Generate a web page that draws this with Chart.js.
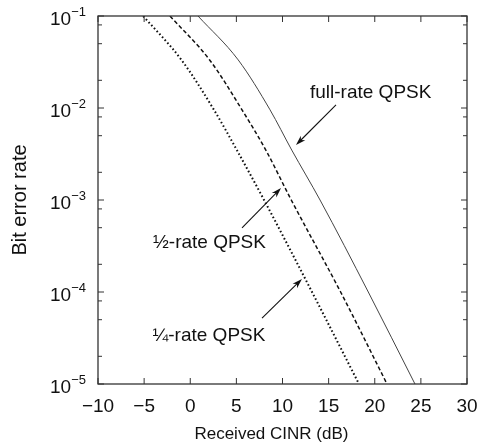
<!DOCTYPE html>
<html>
<head>
<meta charset="utf-8">
<script src="https://cdn.jsdelivr.net/npm/chart.js@4.4.0/dist/chart.umd.min.js"></script>
<style>
  html, body { margin: 0; padding: 0; background: #fff; }
  canvas { display: block; }
</style>
</head>
<body>
<canvas id="ber" width="489" height="446"></canvas>
<script>
// BER levels, and the CINR (dB) at which each QPSK curve reaches them
var berLevels = [1e-1, 3.33e-2, 9.55e-3, 3.49e-3, 1e-3, 1e-4, 1e-5]
var fullRateDb = [0.84, 5.2, 8.65, 11.0, 14.07, 19.3, 24.36]
var halfRateDb = [-2.2, 2.1, 5.61, 8.19, 10.95, 16.3, 21.33]
var quarterRateDb = [-5.1, -0.95, 2.57, 5.05, 8.0, 13.2, 18.29]

var xTicks = [-10, -5, 0, 5, 10, 15, 20, 25, 30]
var yDecades = [-5, -4, -3, -2, -1]
var yMinor = [2, 5, 8]

// curve labels with their arrows, in (dB, BER)
var curveLabels = ['full-rate QPSK', '\u00bd-rate QPSK', '\u00bc-rate QPSK']
var labelAt = [[12.98, 1.285e-2], [-4.04, 3.006e-4], [-4.1, 2.93e-5]]
var arrowFrom = [[15.8, 1.079e-2], [5.61, 4.97e-4], [7.78, 5.21e-5]]
var arrowTo = [[11.46, 3.963e-3], [9.84, 1.349e-3], [12.11, 1.384e-4]]

var xTitle = 'Received CINR (dB)'

var FAMILY = '"Liberation Sans", Arial, Helvetica, sans-serif'
Chart.defaults.font.family = FAMILY
Chart.defaults.color = '#111'

function points(db) {
    return berLevels.map(function (b, i) { return { x: db[i], y: b } })
}

var frame = {
    id: 'frame',
    afterDraw: function (chart) {
        var ctx = chart.ctx, a = chart.chartArea
        var xs = chart.scales.x, ys = chart.scales.y
        ctx.save()

        // box round the plot
        ctx.strokeStyle = '#333'
        ctx.lineWidth = 1.3
        ctx.strokeRect(a.left, a.top, a.right - a.left, a.bottom - a.top)

        // inward tick marks on all four sides
        ctx.lineWidth = 1
        ctx.beginPath()
        xs.ticks.forEach(function (t) {
            var px = xs.getPixelForValue(t.value)
            ctx.moveTo(px, a.bottom); ctx.lineTo(px, a.bottom - 6)
            ctx.moveTo(px, a.top); ctx.lineTo(px, a.top + 6)
        })
        ys.ticks.forEach(function (t) {
            var py = ys.getPixelForValue(t.value)
            var e = Math.log10(t.value)
            var len = Math.abs(e - Math.round(e)) < 1e-9 ? 6 : 4
            ctx.moveTo(a.left, py); ctx.lineTo(a.left + len, py)
            ctx.moveTo(a.right, py); ctx.lineTo(a.right - len, py)
        })
        ctx.stroke()

        // 10^n labels on the y axis
        ctx.fillStyle = '#111'
        ctx.textAlign = 'right'
        ctx.textBaseline = 'alphabetic'
        yDecades.forEach(function (e) {
            var py = ys.getPixelForValue(Math.pow(10, e))
            var sup = '\u2212' + Math.abs(e)
            ctx.font = '13px ' + FAMILY
            var sw = ctx.measureText(sup).width
            ctx.fillText(sup, a.left - 12, py)
            ctx.font = '19px ' + FAMILY
            ctx.fillText('10', a.left - 12 - sw, py + 9)
        })

        // x axis title, sitting a little left of the plot centre
        ctx.font = '17px ' + FAMILY
        ctx.textAlign = 'center'
        ctx.fillText(xTitle, a.left + (a.right - a.left) * 0.47, chart.height - 7)

        // arrows pointing at the curves
        ctx.strokeStyle = '#111'
        ctx.fillStyle = '#111'
        ctx.lineWidth = 1.1
        for (var i = 0; i < curveLabels.length; i++) {
            var x0 = xs.getPixelForValue(arrowFrom[i][0]), y0 = ys.getPixelForValue(arrowFrom[i][1])
            var x1 = xs.getPixelForValue(arrowTo[i][0]), y1 = ys.getPixelForValue(arrowTo[i][1])
            var ang = Math.atan2(y1 - y0, x1 - x0)
            ctx.beginPath()
            ctx.moveTo(x0, y0)
            ctx.lineTo(x1 - 6 * Math.cos(ang), y1 - 6 * Math.sin(ang))
            ctx.stroke()
            ctx.beginPath()
            ctx.moveTo(x1, y1)
            ctx.lineTo(x1 - 10 * Math.cos(ang) + 3.2 * Math.sin(ang), y1 - 10 * Math.sin(ang) - 3.2 * Math.cos(ang))
            ctx.lineTo(x1 - 7 * Math.cos(ang), y1 - 7 * Math.sin(ang))
            ctx.lineTo(x1 - 10 * Math.cos(ang) - 3.2 * Math.sin(ang), y1 - 10 * Math.sin(ang) + 3.2 * Math.cos(ang))
            ctx.closePath()
            ctx.fill()

            ctx.font = '19px ' + FAMILY
            ctx.textAlign = 'left'
            ctx.fillText(curveLabels[i], xs.getPixelForValue(labelAt[i][0]), ys.getPixelForValue(labelAt[i][1]))
        }
        ctx.restore()
    }
}

new Chart(document.getElementById('ber'), {
    type: 'line',
    data: {
        datasets: [
            { label: 'full-rate QPSK', data: points(fullRateDb), borderColor: '#444', borderWidth: 1 },
            { label: '1/2-rate QPSK', data: points(halfRateDb), borderColor: '#111', borderWidth: 1.5, borderDash: [4, 2.5] },
            { label: '1/4-rate QPSK', data: points(quarterRateDb), borderColor: '#111', borderWidth: 2, borderDash: [1.6, 2.4] }
        ]
    },
    options: {
        responsive: false,
        animation: false,
        events: [],
        layout: { padding: { top: 16, right: 22, left: 0, bottom: 0 } },
        elements: {
            point: { radius: 0 },
            line: { cubicInterpolationMode: 'monotone', fill: false }
        },
        plugins: { legend: { display: false }, tooltip: { enabled: false } },
        scales: {
            x: {
                type: 'linear',
                min: -10,
                max: 30,
                grid: { display: false, drawTicks: false },
                border: { display: false },
                afterBuildTicks: function (s) { s.ticks = xTicks.map(function (v) { return { value: v } }) },
                afterFit: function (s) { s.height = 62 },
                ticks: {
                    font: { size: 19 },
                    padding: 11,
                    maxRotation: 0,
                    autoSkip: false,
                    callback: function (v) { return String(v).replace('-', '\u2212') }
                }
            },
            y: {
                type: 'logarithmic',
                min: 1e-5,
                max: 1e-1,
                grid: { display: false, drawTicks: false },
                border: { display: false },
                afterBuildTicks: function (s) {
                    var t = []
                    yDecades.forEach(function (e) {
                        t.push({ value: Math.pow(10, e) })
                        if (e < -1) yMinor.forEach(function (m) { t.push({ value: m * Math.pow(10, e) }) })
                    })
                    s.ticks = t
                },
                afterFit: function (s) { s.width = 98 },
                ticks: { display: false },
                title: { display: true, text: 'Bit error rate', font: { size: 20 }, padding: { top: 8, bottom: 0 } }
            }
        }
    },
    plugins: [frame]
})
</script>
</body>
</html>
